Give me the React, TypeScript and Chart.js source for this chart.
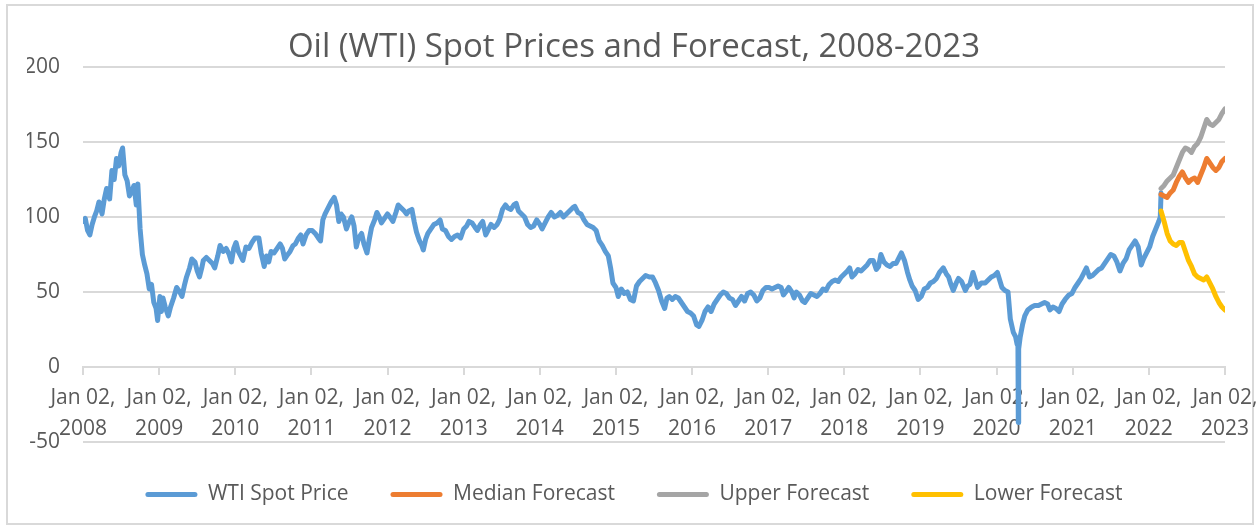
import React, { useEffect, useRef } from 'react';
import { Chart, registerables } from 'chart.js';

Chart.register(...registerables);

// ---- Data (decimal years, USD/bbl) ----
const wtiDates: number[] = [
  2008.00, 2008.03, 2008.06, 2008.09, 2008.12, 2008.15, 2008.18, 2008.21, 2008.25, 2008.28, 2008.31, 2008.35,
  2008.38, 2008.41, 2008.44, 2008.47, 2008.50, 2008.52, 2008.55, 2008.58, 2008.61, 2008.64, 2008.67, 2008.70,
  2008.72, 2008.75, 2008.78, 2008.81, 2008.84, 2008.87, 2008.90, 2008.93, 2008.96, 2008.98,
  2009.01, 2009.03, 2009.05, 2009.08, 2009.12, 2009.15, 2009.19, 2009.23, 2009.27, 2009.30, 2009.33, 2009.36,
  2009.40, 2009.43, 2009.47, 2009.50, 2009.53, 2009.56, 2009.58, 2009.62, 2009.66, 2009.70, 2009.73, 2009.77,
  2009.80, 2009.84, 2009.88, 2009.92, 2009.95, 2009.98,
  2010.01, 2010.04, 2010.07, 2010.10, 2010.14, 2010.18, 2010.22, 2010.26, 2010.31, 2010.34, 2010.38, 2010.41,
  2010.44, 2010.47, 2010.51, 2010.55, 2010.59, 2010.62, 2010.65, 2010.69, 2010.72, 2010.76, 2010.79, 2010.83,
  2010.86, 2010.89, 2010.93, 2010.97,
  2011.01, 2011.05, 2011.09, 2011.12, 2011.15, 2011.18, 2011.22, 2011.26, 2011.30, 2011.33, 2011.36, 2011.39,
  2011.42, 2011.46, 2011.49, 2011.53, 2011.56, 2011.59, 2011.62, 2011.66, 2011.69, 2011.73, 2011.76, 2011.79,
  2011.83, 2011.86, 2011.89, 2011.92, 2011.96,
  2012.00, 2012.03, 2012.07, 2012.11, 2012.14, 2012.18, 2012.22, 2012.25, 2012.28, 2012.32, 2012.35, 2012.38,
  2012.42, 2012.45, 2012.47, 2012.50, 2012.53, 2012.57, 2012.61, 2012.65, 2012.69, 2012.72, 2012.76, 2012.80,
  2012.84, 2012.88, 2012.92, 2012.96,
  2013.00, 2013.04, 2013.07, 2013.11, 2013.15, 2013.18, 2013.22, 2013.25, 2013.29, 2013.32, 2013.36, 2013.40,
  2013.44, 2013.47, 2013.51, 2013.55, 2013.58, 2013.62, 2013.66, 2013.69, 2013.72, 2013.76, 2013.80, 2013.84,
  2013.88, 2013.92, 2013.96,
  2014.00, 2014.03, 2014.07, 2014.11, 2014.15, 2014.19, 2014.23, 2014.27, 2014.31, 2014.35, 2014.39, 2014.43,
  2014.46, 2014.50, 2014.54, 2014.58, 2014.62, 2014.66, 2014.70, 2014.74, 2014.78, 2014.82, 2014.86, 2014.90,
  2014.93, 2014.96,
  2015.00, 2015.03, 2015.07, 2015.11, 2015.15, 2015.19, 2015.23, 2015.27, 2015.31, 2015.35, 2015.39, 2015.44,
  2015.48, 2015.52, 2015.56, 2015.60, 2015.64, 2015.67, 2015.70, 2015.74, 2015.78, 2015.82, 2015.86, 2015.90,
  2015.94, 2015.98,
  2016.02, 2016.06, 2016.09, 2016.13, 2016.17, 2016.21, 2016.25, 2016.29, 2016.33, 2016.37, 2016.41, 2016.45,
  2016.49, 2016.53, 2016.57, 2016.61, 2016.65, 2016.69, 2016.73, 2016.77, 2016.81, 2016.85, 2016.89, 2016.93,
  2016.97,
  2017.01, 2017.05, 2017.09, 2017.13, 2017.17, 2017.20, 2017.23, 2017.27, 2017.31, 2017.34, 2017.37, 2017.41,
  2017.45, 2017.48, 2017.52, 2017.56, 2017.60, 2017.64, 2017.68, 2017.72, 2017.76, 2017.80, 2017.84, 2017.88,
  2017.92, 2017.96,
  2018.00, 2018.04, 2018.07, 2018.10, 2018.14, 2018.18, 2018.22, 2018.26, 2018.30, 2018.34, 2018.38, 2018.42,
  2018.45, 2018.48, 2018.52, 2018.56, 2018.60, 2018.64, 2018.68, 2018.72, 2018.75, 2018.79, 2018.83, 2018.86,
  2018.89, 2018.93, 2018.97,
  2019.01, 2019.05, 2019.09, 2019.13, 2019.17, 2019.21, 2019.25, 2019.30, 2019.34, 2019.37, 2019.40, 2019.43,
  2019.47, 2019.50, 2019.54, 2019.59, 2019.62, 2019.65, 2019.69, 2019.72, 2019.75, 2019.80, 2019.85, 2019.89,
  2019.93, 2019.97,
  2020.01, 2020.04, 2020.07, 2020.11, 2020.15, 2020.18, 2020.22, 2020.25, 2020.27, 2020.28, 2020.285, 2020.29,
  2020.31, 2020.34, 2020.37, 2020.41, 2020.46, 2020.50, 2020.55, 2020.59, 2020.63, 2020.67, 2020.70, 2020.74,
  2020.78, 2020.82, 2020.86, 2020.90, 2020.95, 2020.99,
  2021.03, 2021.07, 2021.11, 2021.15, 2021.18, 2021.22, 2021.26, 2021.30, 2021.34, 2021.38, 2021.42, 2021.46,
  2021.50, 2021.54, 2021.58, 2021.62, 2021.66, 2021.70, 2021.74, 2021.78, 2021.82, 2021.86, 2021.90, 2021.93,
  2021.97,
  2022.01, 2022.05, 2022.09, 2022.13, 2022.15, 2022.16,
];

const wtiPrices: number[] = [
  97, 99, 91, 88, 95, 100, 104, 110, 102, 112, 119, 112,
  131, 125, 139, 134, 143, 146, 128, 124, 114, 117, 121, 108,
  122, 92, 75, 68, 62, 52, 55, 43, 39, 31,
  47, 37, 46, 40, 34, 40, 46, 53, 50, 47, 54, 60,
  66, 72, 70, 64, 60, 66, 71, 73, 71, 69, 66, 74,
  81, 77, 79, 75, 70, 79,
  83, 77, 74, 71, 80, 79, 83, 86, 86, 76, 67, 74,
  70, 77, 76, 79, 82, 79, 72, 75, 77, 81, 82, 86,
  88, 82, 88, 91,
  91, 89, 86, 84, 98, 102, 106, 110, 113, 108, 97, 102,
  100, 92, 96, 100, 94, 80, 86, 89, 82, 76, 85, 93,
  98, 103, 100, 96, 99,
  102, 100, 97, 103, 108, 106, 104, 102, 104, 105, 97, 90,
  84, 81, 78, 85, 89, 92, 95, 96, 98, 92, 91, 87,
  85, 87, 88, 86,
  92, 94, 97, 96, 93, 91, 95, 97, 88, 91, 95, 93,
  95, 98, 105, 108, 106, 105, 108, 109, 104, 102, 100, 95,
  93, 94, 98,
  95, 92, 96, 100, 103, 100, 101, 103, 100, 102, 104, 106,
  107, 103, 102, 98, 95, 94, 93, 91, 84, 81, 77, 74,
  66, 56,
  53, 47, 52, 49, 50, 45, 44, 54, 57, 59, 61, 60,
  60, 56, 51, 44, 39, 46, 47, 45, 47, 46, 43, 40,
  37, 36,
  34, 28, 27, 31, 37, 40, 37, 42, 45, 48, 50, 49,
  46, 45, 41, 44, 47, 44, 49, 50, 48, 44, 46, 51,
  53,
  53, 52, 53, 54, 53, 48, 50, 53, 50, 46, 50, 48,
  44, 43, 46, 49, 48, 47, 49, 52, 51, 55, 57, 58,
  57, 60,
  62, 64, 66, 60, 62, 65, 64, 66, 68, 71, 71, 65,
  67, 75, 70, 68, 67, 69, 69, 73, 76, 71, 63, 58,
  54, 51, 45,
  47, 52, 53, 56, 57, 59, 63, 66, 62, 60, 55, 51,
  56, 59, 57, 51, 54, 55, 63, 58, 53, 56, 56, 58,
  60, 61,
  63, 58, 53, 51, 50, 32, 23, 20, 15, 18, -37, 12,
  20, 28, 34, 38, 40, 41, 41, 42, 43, 42, 38, 40,
  39, 37, 42, 45, 48, 49,
  53, 56, 59, 63, 66, 60, 61, 63, 65, 66, 69, 72,
  75, 74, 70, 64, 69, 72, 78, 81, 84, 80, 68, 72,
  76,
  80, 87, 92, 97, 100, 116,
];

const forecastDates: number[] = [
  2022.16, 2022.20, 2022.24, 2022.28, 2022.32, 2022.36, 2022.40, 2022.44, 2022.48, 2022.52, 2022.56,
  2022.60, 2022.64, 2022.68, 2022.72, 2022.76, 2022.80, 2022.84, 2022.88, 2022.92, 2022.96, 2023.00,
];
const medianForecast: number[] = [115, 114, 113, 116, 118, 123, 127, 130, 126, 123, 125, 126, 123, 128, 133, 139, 136, 133, 131, 133, 137, 139];
const upperForecast: number[] = [119, 121, 124, 126, 128, 133, 138, 143, 146, 145, 143, 147, 149, 153, 159, 165, 162, 161, 163, 165, 169, 172];
const lowerForecast: number[] = [104, 97, 89, 84, 82, 81, 83, 83, 77, 71, 67, 62, 60, 59, 58, 60, 56, 52, 47, 43, 40, 38];

const tickYears: number[] = [2008, 2009, 2010, 2011, 2012, 2013, 2014, 2015, 2016, 2017, 2018, 2019, 2020, 2021, 2022, 2023];
const tickPrefix = 'Jan 02,';
const yTicks: number[] = [-50, 0, 50, 100, 150, 200];

const seriesLabels = ['WTI Spot Price', 'Median Forecast', 'Upper Forecast', 'Lower Forecast'];
const seriesColors = ['#5B9BD5', '#ED7D31', '#A5A5A5', '#FFC000'];
const chartTitle = 'Oil (WTI) Spot Prices and Forecast, 2008-2023';

const FONT = "'Open Sans', sans-serif";
const TEXT = '#595959';
const GRID = '#D9D9D9';

const toPoints = (xs: number[], ys: number[]) => xs.map((x, i) => ({ x, y: ys[i] }));

export default function App() {
  const canvasRef = useRef<HTMLCanvasElement | null>(null);

  useEffect(() => {
    const canvas = canvasRef.current;
    if (!canvas) return;
    const seriesData = [
      toPoints(wtiDates, wtiPrices),
      toPoints(forecastDates, medianForecast),
      toPoints(forecastDates, upperForecast),
      toPoints(forecastDates, lowerForecast),
    ];
    const chart = new Chart(canvas, {
      type: 'line',
      data: {
        datasets: seriesLabels.map((label, i) => ({
          label,
          data: seriesData[i],
          borderColor: seriesColors[i],
          backgroundColor: seriesColors[i],
          borderWidth: 5,
          pointRadius: 0,
          pointHoverRadius: 0,
          tension: 0,
          borderCapStyle: 'round' as const,
          borderJoinStyle: 'round' as const,
          fill: false,
          order: seriesLabels.length - i,
        })),
      },
      options: {
        responsive: false,
        animation: false,
        devicePixelRatio: 1,
        layout: { padding: { left: 27, right: 15, top: 0, bottom: 13 } },
        plugins: {
          tooltip: { enabled: false },
          title: {
            display: true,
            text: chartTitle,
            color: TEXT,
            font: { family: FONT, size: 33, weight: 'normal', lineHeight: 1.18 },
            padding: { top: 28, bottom: 0 },
          },
          legend: {
            display: true,
            position: 'bottom',
            labels: {
              boxWidth: 52,
              boxHeight: 5,
              padding: 42,
              color: TEXT,
              useBorderRadius: true,
              borderRadius: 2.5,
              font: { family: FONT, size: 21 },
              generateLabels: (c: any) =>
                c.data.datasets.map((ds: any, i: number) => ({
                  text: ds.label,
                  fillStyle: ds.borderColor,
                  strokeStyle: ds.borderColor,
                  lineWidth: 0,
                  hidden: false,
                  datasetIndex: i,
                  borderRadius: 2.5,
                  fontColor: TEXT,
                })),
            },
          },
        },
        scales: {
          x: {
            type: 'linear',
            position: { y: 0 } as any,
            min: tickYears[0],
            max: tickYears[tickYears.length - 1],
            afterBuildTicks: (s: any) => {
              s.ticks = tickYears.map((v) => ({ value: v }));
            },
            afterFit: (s: any) => {
              s.paddingLeft = 0;
              s.paddingRight = 31;
            },
            grid: {
              drawOnChartArea: false,
              drawTicks: true,
              tickLength: 7,
              color: GRID,
              lineWidth: 2,
            },
            border: { display: true, color: GRID, width: 2 },
            ticks: {
              autoSkip: false,
              maxRotation: 0,
              minRotation: 0,
              padding: 9,
              color: TEXT,
              font: { family: FONT, size: 21, lineHeight: 1.45 },
              callback: (v: any) => [tickPrefix, String(v)],
            },
          },
          y: {
            type: 'linear',
            min: yTicks[0],
            max: yTicks[yTicks.length - 1],
            afterBuildTicks: (s: any) => {
              s.ticks = yTicks.map((v) => ({ value: v }));
            },
            afterFit: (s: any) => {
              s.width = 56;
            },
            grid: { drawTicks: false, color: GRID, lineWidth: 2 },
            border: { display: false },
            ticks: {
              padding: 23,
              color: TEXT,
              font: { family: FONT, size: 21 },
            },
          },
        },
      },
    });
    return () => chart.destroy();
  }, []);

  return (
    <div style={{ position: 'absolute', left: 0, top: 0, width: 1256, height: 528, background: '#ffffff' }}>
      <div
        style={{
          position: 'absolute',
          left: 6,
          top: 4,
          width: 1248,
          height: 521,
          border: '2px solid #D9D9D9',
          boxSizing: 'border-box',
        }}
      />
      <canvas ref={canvasRef} width={1256} height={528} style={{ position: 'absolute', left: 0, top: 0 }} />
    </div>
  );
}
